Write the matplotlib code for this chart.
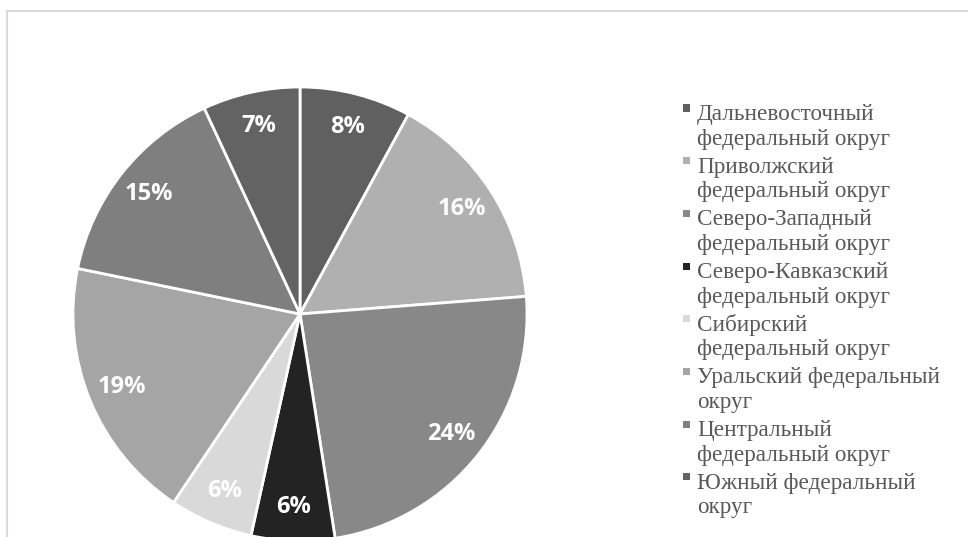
import matplotlib.pyplot as plt
from matplotlib.patches import Rectangle

first_lines = ["Дальневосточный", "Приволжский", "Северо-Западный", "Северо-Кавказский",
               "Сибирский", "Уральский федеральный", "Центральный", "Южный федеральный"]
second_lines = ["федеральный округ", "федеральный округ", "федеральный округ", "федеральный округ",
                "федеральный округ", "округ", "федеральный округ", "округ"]
shares = [8, 16, 24, 6, 6, 19, 15, 7]
colors = ["#606060", "#b0b0b0", "#888888", "#232323", "#d9d9d9", "#a5a5a5", "#7f7f7f", "#636363"]

W, H = 968, 537
fig = plt.figure(figsize=(W / 100, H / 100), dpi=100)

# light frame around the chart area
fig.patches.append(Rectangle((7 / W, -0.1), 1.2, 1.1 - 11 / H, transform=fig.transFigure,
                             fill=False, edgecolor="#d9d9d9", linewidth=1.5))

ax = fig.add_axes([73 / W, -4 / H, 454 / W, 454 / H])
wedges, texts, autotexts = ax.pie(
    shares, colors=colors, startangle=90, counterclock=False,
    autopct="%.0f%%", pctdistance=0.85,
    wedgeprops=dict(edgecolor="white", linewidth=2),
    textprops=dict(color="white", fontsize=17, fontweight="bold", family="Open Sans"))
ax.set_xlim(-1, 1)
ax.set_ylim(-1, 1)

# legend on the right, drawn entry by entry
for i, c in enumerate(colors):
    ys = 108 + 52.7 * i
    fig.patches.append(Rectangle((683 / W, 1 - (ys + 3.5) / H), 7 / W, 7 / H,
                                 transform=fig.transFigure, facecolor=c, edgecolor="none"))
    for j, line in enumerate([first_lines[i], second_lines[i]]):
        yb = ys + 12 + 24.5 * j
        fig.text(697 / W, 1 - yb / H, line, ha="left", va="baseline", fontsize=16.7,
                 color="#595959", family="Liberation Serif")

fig.savefig("out.png", dpi=100)
